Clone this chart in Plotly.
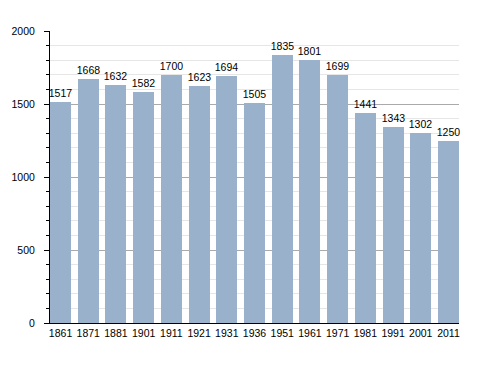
import plotly.graph_objects as go

years = ["1861", "1871", "1881", "1901", "1911", "1921", "1931", "1936",
         "1951", "1961", "1971", "1981", "1991", "2001", "2011"]
population = [1517, 1668, 1632, 1582, 1700, 1623, 1694, 1505,
              1835, 1801, 1699, 1441, 1343, 1302, 1250]
y_ticks = [0, 500, 1000, 1500, 2000]

xpos = list(range(len(years)))
bar_w = 0.76

fig = go.Figure(go.Bar(
    x=xpos, y=population, width=bar_w,
    marker=dict(color="#9ab1cc", line=dict(width=0)),
    text=[str(v) for v in population], textposition="outside",
    constraintext="none",
    textfont=dict(family="Liberation Sans, Arial, sans-serif", size=10.5, color="#000"),
    cliponaxis=False,
))

fig.update_layout(
    width=480, height=365,
    margin=dict(l=42, r=29, t=23, b=50),
    paper_bgcolor="white", plot_bgcolor="white",
    showlegend=False,
    font=dict(family="Liberation Sans, Arial, sans-serif", size=10.5, color="#000"),
    xaxis=dict(
        range=[-bar_w / 2, len(years) - 1 + bar_w / 2],
        tickmode="array", tickvals=xpos, ticktext=years,
        showgrid=False, zeroline=False, automargin=False,
        showline=True, linecolor="#000", linewidth=1,
        ticks="", tickfont=dict(size=10.5),
    ),
    yaxis=dict(
        range=[0, 2000], tickmode="array", tickvals=y_ticks,
        showgrid=True, gridcolor="#aaaaaa", gridwidth=1,
        zeroline=False, showline=True, linecolor="#000", linewidth=1,
        automargin=False,
        ticks="outside", ticklen=5, tickcolor="#000",
        ticklabelstandoff=7,
        minor=dict(dtick=100, ticks="outside", ticklen=3, tickcolor="#000",
                   showgrid=True, gridcolor="#e6e6e6", gridwidth=1),
        tickfont=dict(size=10.5),
    ),
    bargap=0,
)

fig.write_html("out.html")
